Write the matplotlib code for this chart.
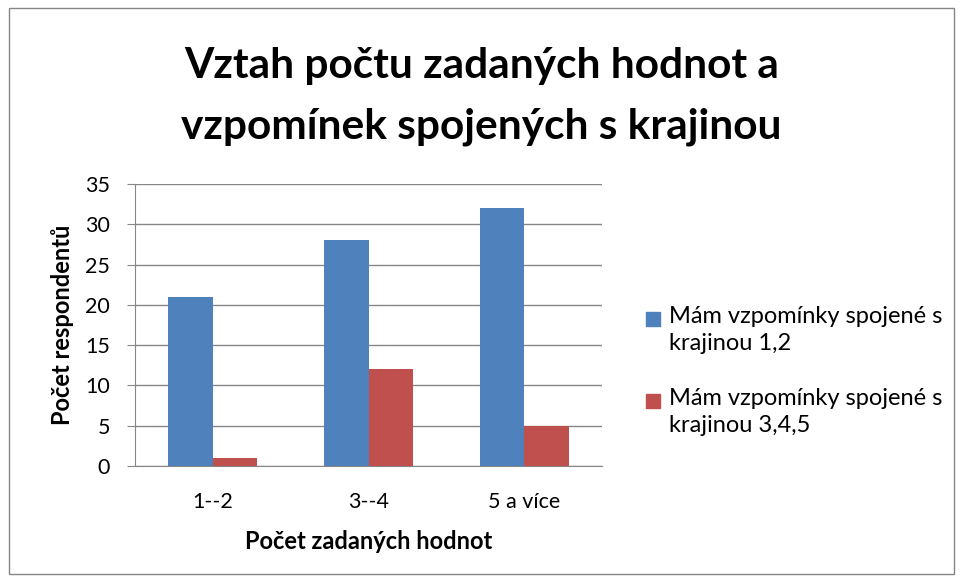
import matplotlib
matplotlib.use("Agg")
from matplotlib import pyplot as plt
from matplotlib.patches import Rectangle, Patch
from matplotlib.legend_handler import HandlerPatch
import numpy as np

categories = ["1--2", "3--4", "5 a více"]
series_12 = [21, 28, 32]
series_345 = [1, 12, 5]
labels = ["Mám vzpomínky spojené s\nkrajinou 1,2", "Mám vzpomínky spojené s\nkrajinou 3,4,5"]
colors = ["#4F81BD", "#C0504D"]

plt.rcParams['font.family'] = ['Lato', 'DejaVu Sans']

fig = plt.figure(figsize=(9.63, 5.82), dpi=100)
# outer chart border
fig.patches.append(Rectangle((9 / 963, 8 / 582), 945 / 963, 566 / 582, transform=fig.transFigure,
                             fill=False, edgecolor="#868686", linewidth=1))

ax = fig.add_axes([135 / 963, 1 - 466 / 582, (602 - 135) / 963, (466 - 184) / 582])

x = np.arange(len(categories))
w = 1 / 3.5
ax.bar(x - w / 2, series_12, w, color=colors[0], zorder=3)
ax.bar(x + w / 2, series_345, w, color=colors[1], zorder=3)

ax.set_xlim(-0.5, 2.5)
ax.set_ylim(0, 35)
ax.set_yticks(range(0, 36, 5))
ax.yaxis.grid(True, color="#868686", linewidth=1, zorder=0)
ax.set_xticks(x)
ax.set_xticklabels(categories, fontsize=15.5)
ax.tick_params(axis='y', labelsize=15.5, length=6, color="#868686", pad=12)
ax.tick_params(axis='x', length=0, pad=19)
for s in ["top", "right"]:
    ax.spines[s].set_visible(False)
ax.spines["left"].set_color("#868686")
ax.spines["bottom"].set_color("#868686")

ax.set_xlabel("Počet zadaných hodnot", fontsize=17, fontweight="bold", labelpad=13)
ax.set_ylabel("Počet respondentů", fontsize=17, fontweight="bold", labelpad=8)

fig.text(0.5, 1 - 78 / 582, "Vztah počtu zadaných hodnot a",
         ha="center", va="baseline", fontsize=30.5, fontweight="bold")
fig.text(0.5, 1 - 138 / 582, "vzpomínek spojených s krajinou",
         ha="center", va="baseline", fontsize=30.5, fontweight="bold")


def top_square(legend, orig_handle, xdescent, ydescent, width, height, fontsize):
    s = 0.6 * fontsize
    return Rectangle((-xdescent, -ydescent + height - s), s, s)


handles = [Patch(color=c) for c in colors]
leg = fig.legend(handles, labels, loc="center left", bbox_to_anchor=(625 / 963, 1 - 371 / 582),
                 frameon=False, fontsize=17, handlelength=0.6, handleheight=2.1,
                 handletextpad=0.35, labelspacing=1.45,
                 handler_map={Patch: HandlerPatch(patch_func=top_square)})
for t in leg.get_texts():
    t.set_linespacing(1.35)

fig.savefig("out.png", dpi=100)
